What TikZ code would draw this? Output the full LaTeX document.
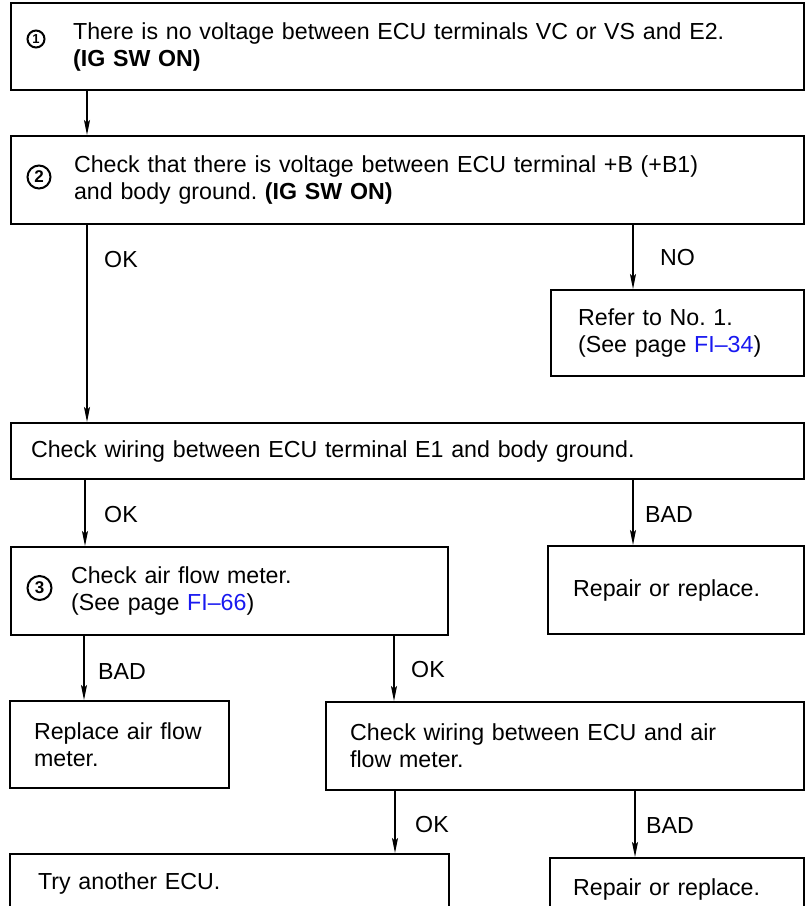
\documentclass[tikz,border=0pt]{standalone}
\usepackage{fontspec}
\setmainfont{Liberation Sans}
\usetikzlibrary{arrows.meta}
\definecolor{linkblue}{RGB}{25,25,240}
\newcommand\mainfs{\fontsize{23.2}{27}\selectfont}
\frenchspacing
\begin{document}
\begin{tikzpicture}[x=1pt,y=-1pt,
  box/.style={draw, line width=2.2pt, rectangle, anchor=north west, inner ysep=0pt, align=left, font=\mainfs},
  arr/.style={line width=1.3pt, -{Stealth[length=15pt,width=6pt,inset=3pt]}},
  lbl/.style={anchor=west, font=\mainfs, inner sep=0pt},
  num/.style={circle, draw, line width=2pt, inner sep=0pt}]
\useasboundingbox (0,0) rectangle (807,906);
\clip (0,0) rectangle (807,906);

% boxes
\node[box, minimum width=793, minimum height=87, inner xsep=62, text width=669] (b1) at (10,2)
  {There is no voltage between ECU terminals VC or VS and E2.\\\textbf{(IG SW ON)}};
\node[box, minimum width=793, minimum height=88, inner xsep=63, text width=667] (b2) at (10,135)
  {Check that there is voltage between ECU terminal +B (+B1)\\and body ground. \textbf{(IG SW ON)}};
\node[box, minimum width=253, minimum height=86, inner xsep=27, text width=199] (refer) at (550,289)
  {Refer to No. 1.\\(See page \textcolor{linkblue}{FI\textendash34})};
\node[box, minimum width=793, minimum height=56, inner xsep=20, text width=753] (e1) at (10,422)
  {Check wiring between ECU terminal E1 and body ground.};
\node[box, minimum width=437, minimum height=88, inner xsep=60, text width=317] (b3) at (10,546)
  {Check air flow meter.\\(See page \textcolor{linkblue}{FI\textendash66})};
\node[box, minimum width=256, minimum height=88, inner xsep=25, text width=206] (rep1) at (547,545)
  {Repair or replace.};
\node[box, minimum width=219, minimum height=87, inner xsep=24, text width=171] (repl) at (9,700)
  {Replace air flow\\meter.};
\node[box, minimum width=478, minimum height=88, inner xsep=24, text width=430] (wir) at (325,701)
  {Check wiring between ECU and air\\flow meter.};
\node[box, minimum width=439, minimum height=58, inner xsep=28, text width=383] (try) at (9,853)
  {Try another ECU.};
\node[box, minimum width=254, minimum height=62, inner xsep=23, text width=208] (rep2) at (549,857)
  {Repair or replace.};

% circled step numbers
\node[num, minimum size=17, font=\bfseries\fontsize{13}{13}\selectfont] (n1) at (36,39) {1};
\node[num, minimum size=23, font=\bfseries\fontsize{17}{17}\selectfont] (n2) at (39,177) {2};
\node[num, minimum size=24, font=\bfseries\fontsize{17}{17}\selectfont] (n3) at (39.5,588) {3};

% connectors
\draw[arr] (b1.south -| 87,0) -- (b2.north -| 87,0);
\draw[arr] (b2.south -| 87,0) -- (e1.north -| 87,0);
\draw[arr] (b2.south -| 633,0) -- (refer.north -| 633,0);
\draw[arr] (e1.south -| 85,0) -- (b3.north -| 85,0);
\draw[arr] (e1.south -| 633,0) -- (rep1.north -| 633,0);
\draw[arr] (b3.south -| 84,0) -- (repl.north -| 84,0);
\draw[arr] (b3.south -| 394,0) -- (wir.north -| 394,0);
\draw[arr] (wir.south -| 395,0) -- (try.north -| 395,0);
\draw[arr] (wir.south -| 635,0) -- (rep2.north -| 635,0);

% labels
\node[lbl] (l1) at (104,260) {OK};
\node[lbl] (l2) at (660,258) {NO};
\node[lbl] (l3) at (104,515) {OK};
\node[lbl] (l4) at (645,515) {BAD};
\node[lbl] (l5) at (98,672) {BAD};
\node[lbl] (l6) at (411,670) {OK};
\node[lbl] (l7) at (415,825) {OK};
\node[lbl] (l8) at (646,826) {BAD};
\end{tikzpicture}
\end{document}
